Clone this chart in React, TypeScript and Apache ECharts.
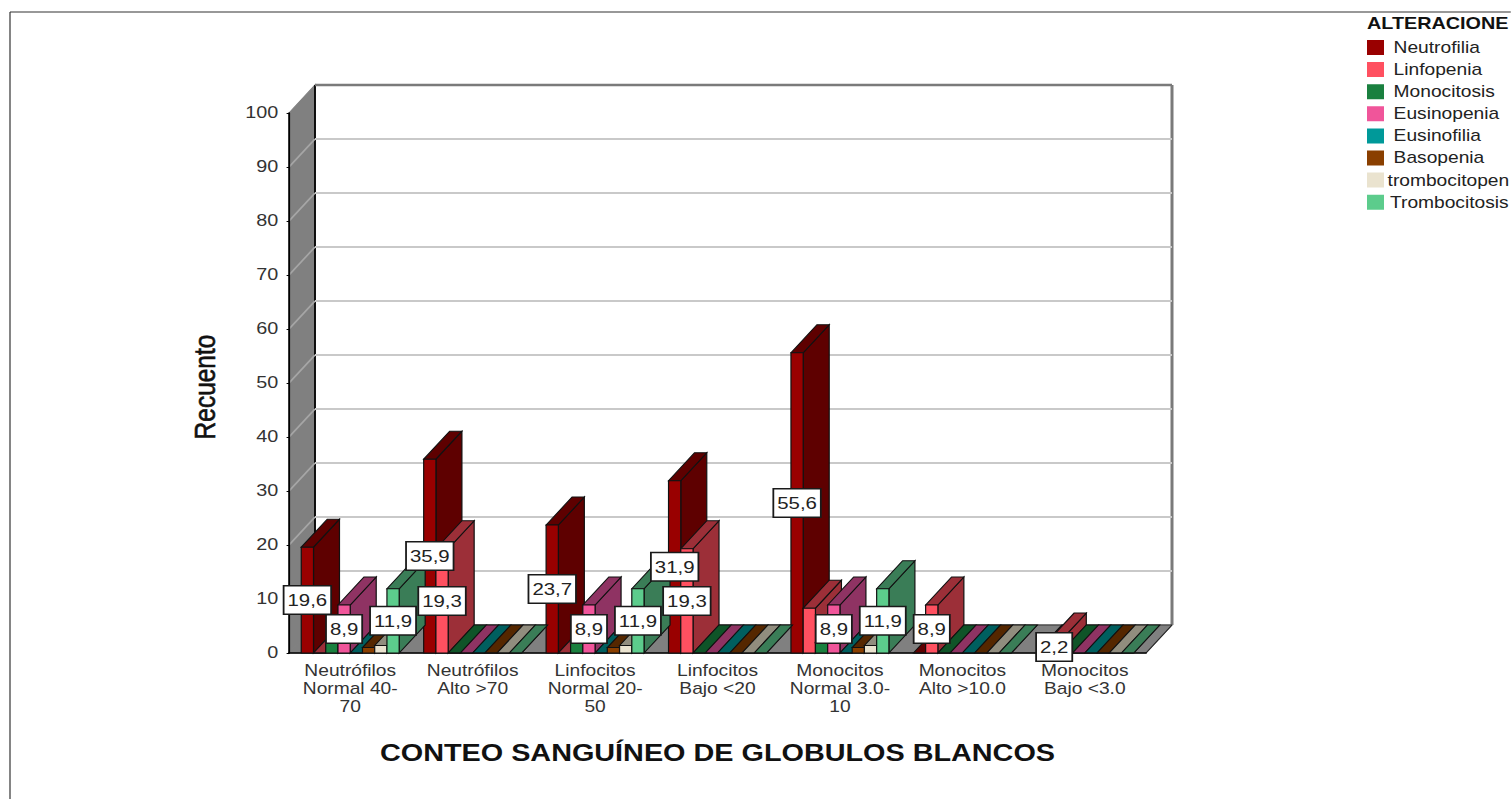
import React, { useEffect, useRef } from "react";
import * as echarts from "echarts";

const FONT = '"Liberation Sans", Arial, sans-serif';

// The whole drawing is laid out on a narrower surface and widened by this factor.
const STRETCH = 1.2;
const PAGE_W = 1511;
const PAGE_H = 799;

const categories = [
  "Neutrófilos\nNormal 40-\n70",
  "Neutrófilos\nAlto >70",
  "Linfocitos\nNormal 20-\n50",
  "Linfocitos\nBajo <20",
  "Monocitos\nNormal 3.0-\n10",
  "Monocitos\nAlto >10.0",
  "Monocitos\nBajo <3.0",
];

const neutrofilia = [19.6, 35.9, 23.7, 31.9, 55.6, 0, 0];
const linfopenia = [0, 19.3, 0, 19.3, 8.3, 8.9, 2.2];
const monocitosis = [2, 0, 2, 0, 2, 0, 0];
const eusinopenia = [8.9, 0, 8.9, 0, 8.9, 0, 0];
const eusinofilia = [0, 0, 0, 0, 0, 0, 0];
const basopenia = [1, 0, 1, 0, 1, 0, 0];
const trombocitopenia = [1.4, 0, 1.4, 0, 1.4, 0, 0];
const trombocitosis = [11.9, 0, 11.9, 0, 11.9, 0, 0];

const seriesNames = [
  "Neutrofilia",
  "Linfopenia",
  "Monocitosis",
  "Eusinopenia",
  "Eusinofilia",
  "Basopenia",
  "trombocitopen",
  "Trombocitosis",
];
const seriesValues = [
  neutrofilia,
  linfopenia,
  monocitosis,
  eusinopenia,
  eusinofilia,
  basopenia,
  trombocitopenia,
  trombocitosis,
];
const frontColors = ["#990000", "#ff5060", "#1a803f", "#f0559a", "#009999", "#8a3f00", "#eae3cf", "#5ccc8c"];
const sideColors = ["#5e0000", "#9c2f38", "#0f5428", "#8f3363", "#005f5f", "#552700", "#918d7e", "#3a7d57"];

// Cells that carry a value box, as [series index, category index].
const labelledCells = [
  [0, 0], [0, 1], [0, 2], [0, 3], [0, 4],
  [1, 1], [1, 3], [1, 5], [1, 6],
  [3, 0], [3, 2], [3, 4],
  [7, 0], [7, 2], [7, 4],
];

const gridTicks = [0, 10, 20, 30, 40, 50, 60, 70, 80, 90, 100];

const sx = (x: number) => x / STRETCH;
const DEPTH_X = sx(26);
const DEPTH_Y = -28;
const SLOTS = 10;
const OUTLINE = "#111111";

const poly = (points: number[][], fill: string, stroke: string, lineWidth = 1) => ({
  type: "polygon",
  shape: { points },
  style: { fill, stroke, lineWidth },
});

const seg = (a: number[], b: number[], stroke: string, lineWidth: number) => ({
  type: "line",
  shape: { x1: a[0], y1: a[1], x2: b[0], y2: b[1] },
  style: { stroke, lineWidth },
});

// Floor and the left wall of the box, plus the outer edges of the back wall.
const renderRoom = (_p: any, api: any) => {
  const catW = api.size([1, 0])[0];
  const left = api.coord([0, 0])[0] - catW / 2;
  const right = api.coord([categories.length - 1, 0])[0] + catW / 2;
  const y0 = api.coord([0, 0])[1];
  const y100 = api.coord([0, 100])[1];
  const bx = DEPTH_X;
  const by = DEPTH_Y;
  return {
    type: "group",
    children: [
      poly([[left, y100], [left + bx, y100 + by], [left + bx, y0 + by], [left, y0]], "#808080", "#808080"),
      poly([[left, y0], [left + bx, y0 + by], [right + bx, y0 + by], [right, y0]], "#808080", "#808080"),
      seg([left + bx, y100 + by], [left + bx, y0 + by], "#000000", 1.5),
      seg([left + bx, y100 + by], [right + bx, y100 + by], "#7a7a7a", 2.5),
      seg([right + bx, y100 + by], [right + bx, y0 + by], "#7a7a7a", 2.5),
      seg([left + bx, y0 + by], [right + bx, y0 + by], "#333333", 1),
      seg([right, y0], [right + bx, y0 + by], "#222222", 1),
    ],
  };
};

// One horizontal rule on the back wall, folding down the left wall.
const renderGridLine = (_p: any, api: any) => {
  const v = api.value(0);
  if (v === 0 || v === 100) return null;
  const catW = api.size([1, 0])[0];
  const left = api.coord([0, 0])[0] - catW / 2;
  const right = api.coord([categories.length - 1, 0])[0] + catW / 2;
  const y = api.coord([0, v])[1];
  return {
    type: "group",
    children: [
      seg([left, y], [left + DEPTH_X, y + DEPTH_Y], "#a6a6a6", 1.5),
      seg([left + DEPTH_X, y + DEPTH_Y], [right + DEPTH_X, y + DEPTH_Y], "#c9c9c9", 2),
    ],
  };
};

const barRenderer = (seriesIndex: number) => (_p: any, api: any) => {
  const cat = api.value(0);
  const base = api.coord([cat, 0]);
  const top = api.coord([cat, api.value(1)]);
  const catW = api.size([1, 0])[0];
  const slot = catW / SLOTS;
  const x0 = base[0] - catW / 2 + slot * (seriesIndex + 1);
  const x1 = x0 + slot;
  const y0 = base[1];
  const y1 = top[1];
  const front = frontColors[seriesIndex];
  const side = sideColors[seriesIndex];
  return {
    type: "group",
    children: [
      poly([[x1, y0], [x1 + DEPTH_X, y0 + DEPTH_Y], [x1 + DEPTH_X, y1 + DEPTH_Y], [x1, y1]], side, OUTLINE),
      poly([[x0, y1], [x0 + DEPTH_X, y1 + DEPTH_Y], [x1 + DEPTH_X, y1 + DEPTH_Y], [x1, y1]], side, OUTLINE),
      poly([[x0, y0], [x1, y0], [x1, y1], [x0, y1]], front, OUTLINE),
    ],
  };
};

// White value box, centred on the bar's front face at half its height.
const renderValueBox = (_p: any, api: any) => {
  const cat = api.value(0);
  const value = api.value(1);
  const seriesIndex = api.value(2);
  const mid = api.coord([cat, value / 2]);
  const catW = api.size([1, 0])[0];
  const slot = catW / SLOTS;
  const cx = mid[0] - catW / 2 + slot * (seriesIndex + 1.5);
  return {
    type: "text",
    x: cx,
    y: mid[1],
    style: {
      text: value.toFixed(1).replace(".", ","),
      font: `17px ${FONT}`,
      fill: "#222222",
      align: "center",
      verticalAlign: "middle",
      backgroundColor: "#ffffff",
      borderColor: "#1a1a1a",
      borderWidth: 1.5,
      padding: [5, 2.5, 5, 2.5],
    },
  };
};

const legendTextOffsets = [8, 8, 8, 8, 8, 8, 3, 5];

export default function App() {
  const ref = useRef<HTMLDivElement>(null);

  useEffect(() => {
    document.body.style.margin = "0";
    if (!ref.current) return;
    const chart = echarts.init(ref.current, undefined, { renderer: "svg" });

    const barSeries = seriesNames.map((name, i) => ({
      type: "custom",
      name,
      coordinateSystem: "cartesian2d",
      clip: false,
      z: 3,
      silent: true,
      itemStyle: { color: frontColors[i] },
      renderItem: barRenderer(i),
      data: seriesValues[i].map((v, c) => [c, v]),
    }));

    chart.setOption({
      animation: false,
      backgroundColor: "#ffffff",
      grid: { left: sx(289), width: sx(857), top: 113, height: 540, containLabel: false },
      legend: {
        left: sx(1367),
        top: 39.5,
        padding: 0,
        orient: "vertical",
        icon: "rect",
        itemWidth: sx(17),
        itemHeight: 15,
        itemGap: 6.1,
        selectedMode: false,
        data: seriesNames.map((name, i) => ({
          name,
          textStyle: { padding: [0, 0, 0, legendTextOffsets[i] - 5] },
        })),
        textStyle: { fontFamily: FONT, fontSize: 16, color: "#222222" },
      },
      xAxis: {
        type: "category",
        data: categories,
        axisTick: { show: false },
        axisLine: { show: true, lineStyle: { color: "#000000", width: 1.5 } },
        axisLabel: {
          interval: 0,
          margin: 9,
          fontFamily: FONT,
          fontSize: 16,
          lineHeight: 18,
          color: "#333333",
        },
        name: "CONTEO SANGUÍNEO DE GLOBULOS BLANCOS",
        nameLocation: "middle",
        nameGap: 88,
        nameTextStyle: { fontFamily: FONT, fontSize: 24, fontWeight: "bold", color: "#111111" },
      },
      yAxis: {
        type: "value",
        min: 0,
        max: 100,
        interval: 10,
        splitLine: { show: false },
        axisTick: { show: true, length: 2, lineStyle: { color: "#000000" } },
        axisLine: { show: true, lineStyle: { color: "#000000", width: 1.5 } },
        axisLabel: {
          margin: 9,
          padding: [4, 0, 0, 0],
          verticalAlign: "middle",
          verticalAlignMinLabel: "middle",
          verticalAlignMaxLabel: "middle",
          fontFamily: FONT,
          fontSize: 16.5,
          color: "#333333",
        },
        name: "Recuento",
        nameLocation: "middle",
        nameGap: 57,
        nameTextStyle: {
          fontFamily: FONT,
          fontSize: 24.5,
          color: "#111111",
          textBorderColor: "#111111",
          textBorderWidth: 0.5,
          padding: [0, 8, 0, 0],
        },
      },
      graphic: [
        {
          type: "line",
          silent: true,
          shape: { x1: sx(10), y1: 12, x2: sx(PAGE_W), y2: 12 },
          style: { stroke: "#333333", lineWidth: 1 },
        },
        {
          type: "line",
          silent: true,
          shape: { x1: sx(10), y1: 12, x2: sx(10), y2: PAGE_H },
          style: { stroke: "#333333", lineWidth: 1 },
        },
        {
          type: "text",
          silent: true,
          x: sx(1367),
          y: 24,
          style: {
            text: "ALTERACIONE",
            font: `bold 16.5px ${FONT}`,
            fill: "#111111",
            verticalAlign: "middle",
          },
        },
      ],
      series: [
        {
          type: "custom",
          coordinateSystem: "cartesian2d",
          clip: false,
          silent: true,
          z: -2,
          renderItem: renderRoom,
          data: [[0, 0]],
        },
        {
          type: "custom",
          coordinateSystem: "cartesian2d",
          clip: false,
          silent: true,
          z: -1,
          renderItem: renderGridLine,
          encode: { x: 1, y: 0 },
          data: gridTicks.map((t) => [t, 0]),
        },
        ...barSeries,
        {
          type: "custom",
          coordinateSystem: "cartesian2d",
          clip: false,
          silent: true,
          z: 5,
          renderItem: renderValueBox,
          data: labelledCells.map(([s, c]) => [c, seriesValues[s][c], s]),
        },
      ],
    });
    return () => chart.dispose();
  }, []);

  return (
    <div style={{ position: "absolute", left: 0, top: 0, width: PAGE_W, height: PAGE_H, overflow: "hidden" }}>
      <div
        ref={ref}
        style={{
          width: PAGE_W / STRETCH,
          height: PAGE_H,
          transform: `scaleX(${STRETCH})`,
          transformOrigin: "left top",
        }}
      />
    </div>
  );
}
